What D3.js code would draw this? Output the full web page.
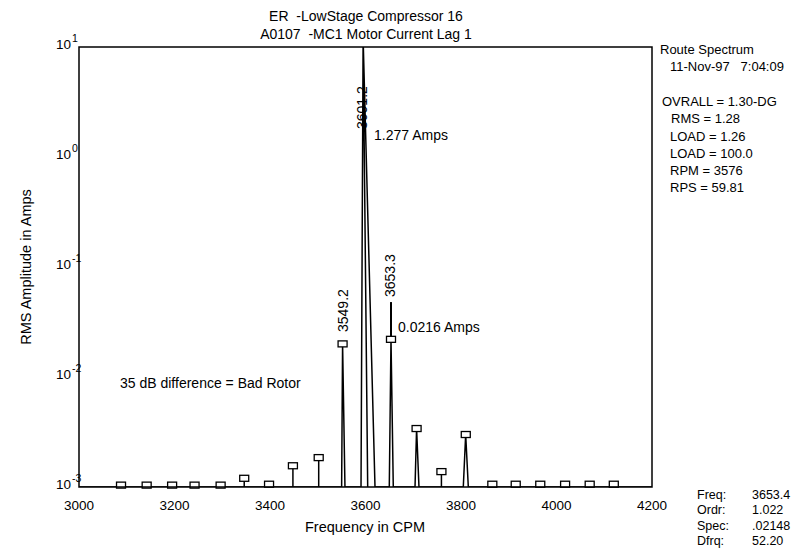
<!DOCTYPE html>
<html><head><meta charset="utf-8">
<script src="https://cdn.jsdelivr.net/npm/d3@7"></script>
<style>
html,body{margin:0;padding:0;background:#fff;}
svg text{font-family:"Liberation Sans",Arial,sans-serif;fill:#000;}
</style></head>
<body>
<svg id="chart" width="798" height="555"></svg>
<script>
// ---- data ----
const titleLines = ["ER  -LowStage Compressor 16", "A0107  -MC1 Motor Current Lag 1"];
const xTicks = [3000, 3200, 3400, 3600, 3800, 4000, 4200];
const yTickExps = [1, 0, -1, -2, -3];
// sideband markers (CPM, amps)
const markerFreq = [3088, 3141.7, 3195, 3242, 3296.6, 3346, 3398, 3448, 3502, 3552, 3653.4, 3707, 3759, 3810, 3865.6, 3914.6, 3966, 4018, 4069.5, 4120];
const markerAmp  = [0.00104, 0.00104, 0.00104, 0.00104, 0.00104, 0.0012, 0.00106, 0.00156, 0.00185, 0.020, 0.022, 0.0034, 0.00138, 0.0030, 0.00106, 0.00106, 0.00106, 0.00106, 0.00106, 0.00106];
// spectrum trace (CPM, amps)
const specFreq = [3000, 3346, 3346, 3346, 3448, 3448, 3448, 3502, 3502, 3502, 3550, 3552, 3557, 3590.6, 3595, 3604.6, 3595, 3619.9, 3649.8, 3653.4, 3658.2, 3703.7, 3707, 3712, 3759, 3759, 3759, 3804.8, 3809.8, 3815.3, 4200];
const specAmp  = [0.001, 0.001, 0.0012, 0.001, 0.001, 0.00156, 0.001, 0.001, 0.00185, 0.001, 0.001, 0.020, 0.001, 0.001, 12, 0.001, 12, 0.001, 0.001, 0.022, 0.001, 0.001, 0.0034, 0.001, 0.001, 0.00138, 0.001, 0.001, 0.0030, 0.001, 0.001];
const peakLabels = ["3601.2", "3549.2", "3653.3"];
const ampLabels = ["1.277 Amps", "0.0216 Amps"];
const noteText = "35 dB difference = Bad Rotor";
const infoLines = ["Route Spectrum", "11-Nov-97   7:04:09", "", "OVRALL = 1.30-DG", "RMS = 1.28", "LOAD = 1.26", "LOAD = 100.0", "RPM = 3576", "RPS = 59.81"];
const cursorNames = ["Freq:", "Ordr:", "Spec:", "Dfrq:"];
const cursorValues = ["3653.4", "1.022", ".02148", "52.20"];

// ---- layout ----
const svg = d3.select("#chart");
const L = 79, R = 652, T = 47, B = 487;
const x = d3.scaleLinear().domain([3000, 4200]).range([L, R]);
const y = d3.scaleLog().domain([1e-3, 1e1]).range([B, T]);

svg.append("defs").append("clipPath").attr("id", "clip")
  .append("rect").attr("x", L).attr("y", T).attr("width", R - L).attr("height", B - T);

// titles
svg.selectAll("text.title").data(titleLines).enter().append("text")
  .attr("x", 366).attr("y", (d, i) => 21 + i * 18)
  .attr("text-anchor", "middle").attr("font-size", 14)
  .style("white-space", "pre").attr("xml:space", "preserve").text(d => d);

// spectrum
const line = d3.line().x(d => x(d[0])).y(d => y(d[1]));
svg.append("path").datum(specFreq.map((f, i) => [f, specAmp[i]]))
  .attr("clip-path", "url(#clip)")
  .attr("d", line).attr("fill", "none").attr("stroke", "#000").attr("stroke-width", 1.5)
  .attr("stroke-linejoin", "miter");

// cursor line above 3653.4
svg.append("line").attr("x1", x(3653.4)).attr("x2", x(3653.4))
  .attr("y1", y(0.022) - 3).attr("y2", y(0.048))
  .attr("stroke", "#000").attr("stroke-width", 2);

// markers
svg.selectAll("rect.mk").data(markerFreq.map((f, i) => [f, markerAmp[i]])).enter().append("rect")
  .attr("x", d => x(d[0]) - 4.5).attr("y", d => y(d[1]) - 3)
  .attr("width", 9).attr("height", 6)
  .attr("fill", "#fff").attr("stroke", "#000").attr("stroke-width", 1.3);

// frame
svg.append("rect").attr("x", L).attr("y", T).attr("width", R - L).attr("height", B - T)
  .attr("fill", "none").attr("stroke", "#000").attr("stroke-width", 1.5);

// x tick labels
svg.selectAll("text.xt").data(xTicks).enter().append("text")
  .attr("x", d => x(d)).attr("y", 510).attr("text-anchor", "middle").attr("font-size", 13.5)
  .text(d => d);

// y tick labels
svg.selectAll("text.yt").data(yTickExps).enter().append("text")
  .attr("x", 71).attr("y", d => y(Math.pow(10, d)) + 2).attr("font-size", 13.5).attr("text-anchor", "end")
  .text("10");
svg.selectAll("text.ye").data(yTickExps).enter().append("text")
  .attr("x", 72).attr("y", d => y(Math.pow(10, d)) - 5).attr("font-size", 10.5)
  .text(d => d);

// axis titles
svg.append("text").attr("x", 365).attr("y", 532).attr("text-anchor", "middle").attr("font-size", 14.5)
  .text("Frequency in CPM");
svg.append("text").attr("transform", `translate(31,${(T + B) / 2}) rotate(-90)`)
  .attr("text-anchor", "middle").attr("font-size", 14.5).text("RMS Amplitude in Amps");

// peak labels (rotated)
svg.append("text").attr("transform", `translate(367,129) rotate(-90)`).attr("font-size", 14).text(peakLabels[0]);
svg.append("text").attr("transform", `translate(348,332) rotate(-90)`).attr("font-size", 14).text(peakLabels[1]);
svg.append("text").attr("transform", `translate(395,297) rotate(-90)`).attr("font-size", 14).text(peakLabels[2]);
svg.append("text").attr("x", 374).attr("y", 140).attr("font-size", 14).text(ampLabels[0]);
svg.append("text").attr("x", 398).attr("y", 332).attr("font-size", 14).text(ampLabels[1]);
svg.append("text").attr("x", 120).attr("y", 388).attr("font-size", 14).text(noteText);

// right info
const indent = [0, 10, 0, 2, 11, 10, 10, 10, 10];
svg.selectAll("text.info").data(infoLines).enter().append("text")
  .attr("x", (d, i) => 660 + indent[i]).attr("y", (d, i) => 54 + i * 17.3).attr("font-size", 13)
  .attr("xml:space", "preserve").style("white-space", "pre").text(d => d);

// cursor readout
svg.selectAll("text.cn").data(cursorNames).enter().append("text")
  .attr("x", 697).attr("y", (d, i) => 499 + i * 15.3).attr("font-size", 12.5).text(d => d);
svg.selectAll("text.cv").data(cursorValues).enter().append("text")
  .attr("x", 752).attr("y", (d, i) => 499 + i * 15.3).attr("font-size", 12.5).text(d => d);
</script>
</body></html>
